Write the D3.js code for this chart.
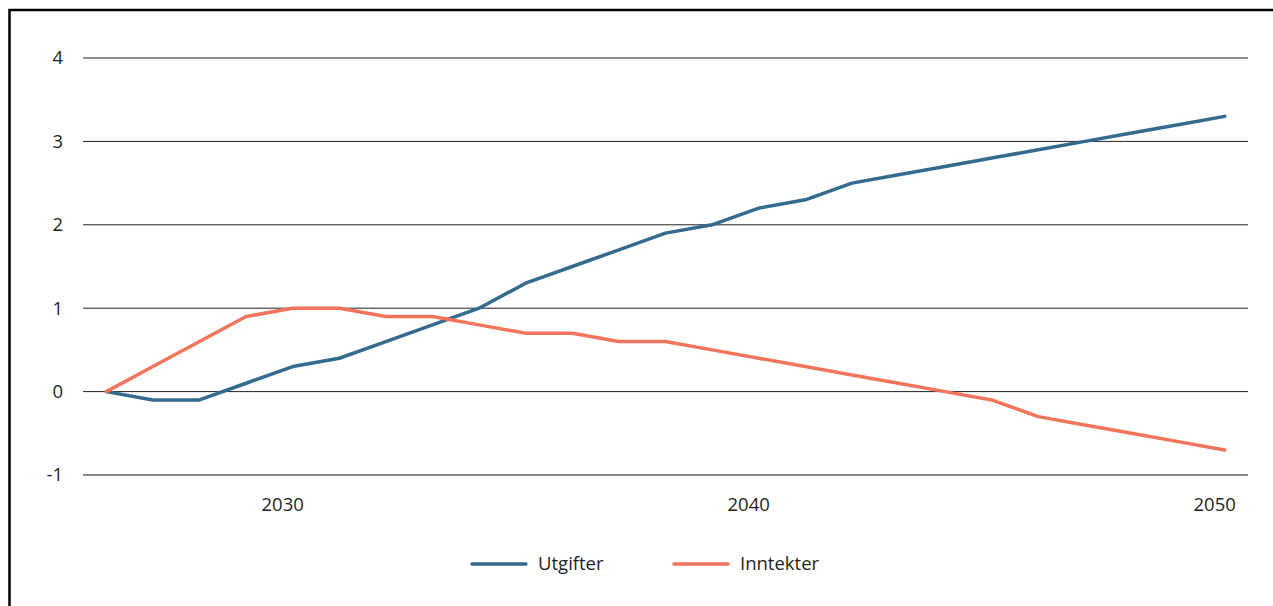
<!DOCTYPE html>
<html>
<head>
<meta charset="utf-8">
<script src="https://cdn.jsdelivr.net/npm/d3@7"></script>
<style>
  body { margin: 0; background: #fff; }
  text { font-family: "Open Sans", sans-serif; fill: #231f20; }
</style>
</head>
<body>
<svg></svg>
<script>
let years = d3.range(2026, 2051)
let utgifter = [0, -0.1, -0.1, 0.1, 0.3, 0.4, 0.6, 0.8, 1.0, 1.3, 1.5, 1.7, 1.9, 2.0, 2.2, 2.3, 2.5, 2.6, 2.7, 2.8, 2.9, 3.0, 3.1, 3.2, 3.3]
let inntekter = [0, 0.3, 0.6, 0.9, 1.0, 1.0, 0.9, 0.9, 0.8, 0.7, 0.7, 0.6, 0.6, 0.5, 0.4, 0.3, 0.2, 0.1, 0.0, -0.1, -0.3, -0.4, -0.5, -0.6, -0.7]
let yTicks = [-1, 0, 1, 2, 3, 4]
let xTicks = [2030, 2040, 2050]
let seriesNames = ['Utgifter', 'Inntekter']
let colors = ['#356a8f', '#f2745a']

let width = 1273
let height = 606
let plotLeft = 83
let plotRight = 1248
let plotTop = 58
let plotBottom = 475

let svg = d3.select('svg')
svg.attr('width', width).attr('height', height)

// frame
svg.append('rect')
   .attr('x', 9.5).attr('y', 10)
   .attr('width', 1400).attr('height', 800)
   .attr('fill', 'none')
   .attr('stroke', '#000')
   .attr('stroke-width', 2.5)

let xScale = d3.scaleBand()
               .domain(years)
               .range([plotLeft, plotRight])

let yScale = d3.scaleLinear()
               .domain([-1, 4])
               .range([plotBottom, plotTop])

let xPos = d => xScale(d) + xScale.bandwidth() / 2

// gridlines
svg.append('g')
   .selectAll('line')
   .data(yTicks)
   .enter()
   .append('line')
   .attr('x1', plotLeft)
   .attr('x2', plotRight)
   .attr('y1', d => yScale(d))
   .attr('y2', d => yScale(d))
   .attr('stroke', d => d === -1 ? '#8a8a8a' : '#231f20')
   .attr('stroke-width', d => d === -1 ? 2 : 1)

// y labels
svg.append('g')
   .selectAll('text')
   .data(yTicks)
   .enter()
   .append('text')
   .attr('x', 63)
   .attr('y', d => yScale(d))
   .attr('dy', '0.35em')
   .attr('text-anchor', 'end')
   .style('font-size', '18.5px')
   .text(d => d)

// x labels
svg.append('g')
   .selectAll('text')
   .data(xTicks)
   .enter()
   .append('text')
   .attr('x', d => xPos(d) - 10)
   .attr('y', 511)
   .attr('text-anchor', 'middle')
   .style('font-size', '18.5px')
   .text(d => d)

let line = d3.line()
             .x((d, i) => xPos(years[i]))
             .y(d => yScale(d))

let series = [utgifter, inntekter]

svg.append('g')
   .selectAll('path')
   .data(series)
   .enter()
   .append('path')
   .attr('d', d => line(d))
   .attr('fill', 'none')
   .attr('stroke', (d, i) => colors[i])
   .attr('stroke-width', 3.5)
   .attr('stroke-linejoin', 'round')
   .attr('stroke-linecap', 'round')

// legend
let legendX = [472, 674]
let legend = svg.append('g')
                .selectAll('g')
                .data(seriesNames)
                .enter()
                .append('g')
                .attr('transform', (d, i) => 'translate(' + legendX[i] + ', 564)')

legend.append('line')
      .attr('x1', 0).attr('x2', 54)
      .attr('stroke', (d, i) => colors[i])
      .attr('stroke-width', 3.5)
      .attr('stroke-linecap', 'round')

legend.append('text')
      .attr('x', 66)
      .attr('dy', '0.35em')
      .style('font-size', '18.5px')
      .text(d => d)
</script>
</body>
</html>
